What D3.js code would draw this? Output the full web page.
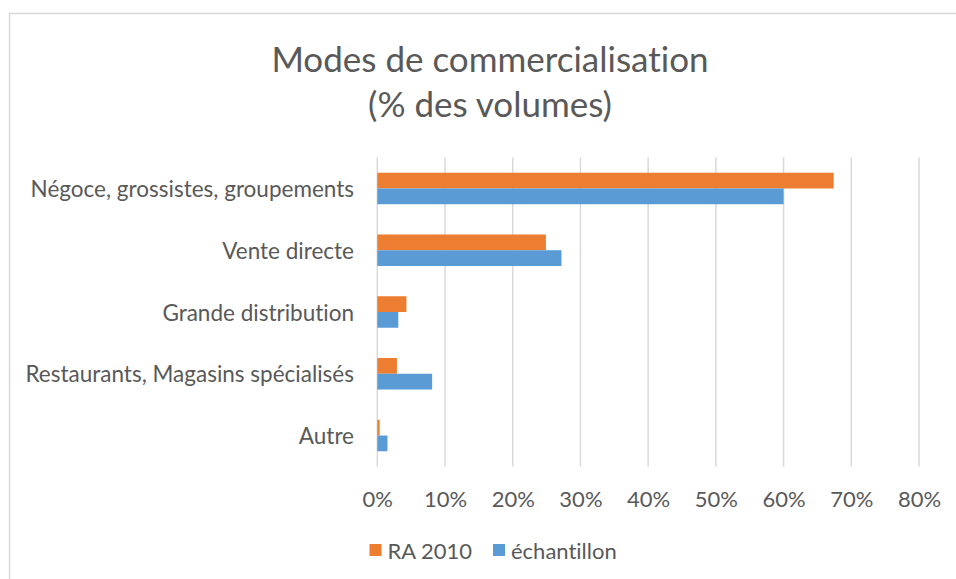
<!DOCTYPE html>
<html>
<head>
<meta charset="utf-8">
<script src="https://cdn.jsdelivr.net/npm/d3@7"></script>
<style>
  html, body { margin: 0; padding: 0; background: #fff; }
  svg { display: block; }
  text { font-family: Lato, "Open Sans", sans-serif; fill: #595959; font-variant-ligatures: none; }
</style>
</head>
<body>
<svg id="chart" width="956" height="579"></svg>
<script>
// Modes de commercialisation, share of volumes (%)
const categories = [
  "Négoce, grossistes, groupements",
  "Vente directe",
  "Grande distribution",
  "Restaurants, Magasins spécialisés",
  "Autre"
];
const seriesNames = ["RA 2010", "échantillon"];
const ra2010 = [67.4, 24.9, 4.3, 2.9, 0.35];
const echantillon = [60.0, 27.2, 3.1, 8.1, 1.5];
const tickValues = [0, 10, 20, 30, 40, 50, 60, 70, 80];
const titleLines = ["Modes de commercialisation", "(% des volumes)"];

const colors = { "RA 2010": "#ED7D31", "échantillon": "#5B9BD5" };
const seriesValues = { "RA 2010": ra2010, "échantillon": echantillon };

const svg = d3.select("#chart");

// chart frame (runs off the right and bottom edges)
svg.append("rect")
  .attr("x", 9.5).attr("y", 13.5)
  .attr("width", 960).attr("height", 580)
  .attr("fill", "#fff")
  .attr("stroke", "#d9d9d9").attr("stroke-width", 1.5);

// title
svg.append("g").selectAll("text")
  .data(titleLines)
  .join("text")
  .attr("x", 490)
  .attr("y", (d, i) => 58 + i * 45)
  .attr("text-anchor", "middle")
  .attr("dominant-baseline", "central")
  .style("font-size", "35px")
  .text(d => d);

const x = d3.scaleLinear().domain([0, 80]).range([377.3, 919]);
const y = d3.scaleBand().domain(categories)
  .range([157.6, 466.4]).paddingInner(0.49).paddingOuter(0.245);
const ySub = d3.scaleBand().domain(seriesNames).range([0, y.bandwidth()]);

// vertical gridlines
svg.append("g").selectAll("line")
  .data(tickValues)
  .join("line")
  .attr("x1", d => x(d)).attr("x2", d => x(d))
  .attr("y1", 157.6).attr("y2", 466.4)
  .attr("stroke", "#d9d9d9").attr("stroke-width", 1.5);

// x axis tick labels
const xAxis = d3.axisBottom(x).tickValues(tickValues)
  .tickFormat(d => d + "%").tickSize(0).tickPadding(0);
const gx = svg.append("g").attr("transform", "translate(0,498)").call(xAxis);
gx.select(".domain").remove();
gx.selectAll("text")
  .attr("y", 0).attr("dy", null)
  .attr("dominant-baseline", "central")
  .attr("fill", "#595959")
  .style("font-family", 'Lato, "Open Sans", sans-serif')
  .style("font-size", "22px");

// category labels
const yAxis = d3.axisLeft(y).tickSize(0).tickPadding(0);
const gy = svg.append("g").attr("transform", "translate(354,0)").call(yAxis);
gy.select(".domain").remove();
gy.selectAll("text")
  .attr("x", 0).attr("dy", null)
  .attr("dominant-baseline", "central")
  .attr("fill", "#595959")
  .style("font-family", 'Lato, "Open Sans", sans-serif')
  .style("font-size", "22.5px");

// bars
const rows = categories.flatMap((c, i) =>
  seriesNames.map(s => ({ cat: c, series: s, value: seriesValues[s][i] })));

svg.append("g").selectAll("rect")
  .data(rows)
  .join("rect")
  .attr("x", x(0))
  .attr("y", d => y(d.cat) + ySub(d.series))
  .attr("width", d => x(d.value) - x(0))
  .attr("height", ySub.bandwidth())
  .attr("fill", d => colors[d.series]);

// legend
const legendX = [369.5, 493];
const lg = svg.append("g").selectAll("g")
  .data(seriesNames)
  .join("g")
  .attr("transform", (d, i) => `translate(${legendX[i]},550)`);
lg.append("rect")
  .attr("x", 0).attr("y", -6)
  .attr("width", 12).attr("height", 12)
  .attr("fill", d => colors[d]);
lg.append("text")
  .attr("x", 18).attr("y", 0)
  .attr("dominant-baseline", "central")
  .style("font-size", "22px")
  .text(d => d);
</script>
</body>
</html>
